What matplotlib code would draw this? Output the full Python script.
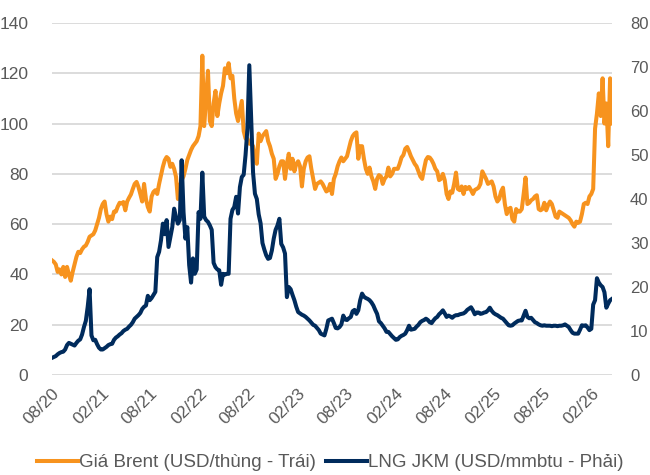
import numpy as np
import pandas as pd
import matplotlib
matplotlib.use("Agg")
import matplotlib.pyplot as plt
import matplotlib.dates as mdates

plt.rcParams['font.family'] = ['Liberation Sans', 'DejaVu Sans']

# weekly series, starting 01/08/2020
start_date = "2020-08-01"

# Brent, USD/thung (left axis)
brent = [
    45.6, 45, 44, 41, 42, 40, 43, 39, 43, 40, 37.5, 41, 44,
    47, 49, 48.5, 50, 51, 51.5, 53, 55, 55.5, 56, 57.5, 60, 62.5,
    66, 68, 69, 64, 61, 63, 62, 65, 65, 67, 68.5, 68.2, 68.8,
    65.5, 69, 70.5, 71.8, 74, 76, 76.8, 74.8, 72, 69, 76, 70, 66.8,
    65, 71, 72.8, 73.5, 72, 76, 79.4, 82.8, 85.4, 86.7, 86, 82.8, 84,
    82, 78.8, 70, 75, 77.5, 79, 82, 85.5, 87.5, 89.5,
    91, 92, 93, 95, 99, 127, 99, 110, 121, 101, 99, 108, 113,
    103, 108, 112, 115, 122, 120, 124, 118, 119, 110, 104, 101, 105,
    109, 97, 94, 94, 92, 92, 91, 86, 84, 96, 93, 95, 96,
    97, 93, 91, 88, 86, 78, 80, 83, 85, 85, 78, 84, 88,
    82, 86, 81, 84, 85, 83, 75, 82, 85, 86.5, 87, 82, 78,
    74, 76, 76.5, 77, 76, 74.5, 73, 73.5,
    76, 72, 78, 80, 83, 85, 86.5, 85, 86, 87, 90, 93, 95,
    96, 96.5, 86, 91, 91, 86, 82, 80, 82.5, 79, 77, 74, 78,
    79.5, 79, 76, 78, 79, 82.5, 79, 80, 82, 82, 82, 84, 86.5,
    87.5, 90, 90.7, 89, 87, 85.5, 84, 83, 81, 79, 78, 82, 85.5,
    86.7, 86.5, 85.5, 84, 82, 81, 77.5, 78, 80, 77.5, 72, 70, 73,
    72.5, 76, 80.5, 74, 73.5, 75, 72, 74.8, 74, 74.8, 73.5,
    72, 73.6, 74, 74.5, 76, 81, 79.5, 78, 76, 76.5, 77, 75, 71,
    69, 70, 73, 74.5, 68, 64, 66, 66.5, 62, 61, 66, 65, 65,
    66, 72, 78.5, 68, 68.5, 69.5, 70, 71, 71.5, 66, 65.5, 66, 68.5,
    65.5, 67.5, 69, 68, 65.5, 63, 62.5, 65, 64.5, 64, 63.5, 63, 62.5,
    61.5, 60, 59, 61, 60.5, 61, 64, 68, 68.5, 68, 71, 72, 74,
    98, 104, 112, 103, 118, 100, 108, 91, 118, 100,
]

# LNG JKM, USD/mmbtu (right axis)
jkm = [
    3.9, 4.1, 4.3, 4.7, 5.0, 5.2, 5.3, 5.8, 6.8, 7.3, 7.1, 6.9, 6.7,
    7.3, 7.8, 8.1, 9.2, 10.9, 12.3, 15.5, 19.5, 9, 7.9, 8, 7, 6.2,
    5.8, 5.8, 6.1, 6.4, 6.8, 7, 7.1, 8, 8.5, 8.8, 9.2, 9.5, 10,
    10.3, 10.5, 11, 11.4, 12, 12.8, 13.2, 13.6, 14.1, 15, 15.5, 15.8, 18,
    17, 17.5, 18.2, 18.9, 26.8, 28, 30.6, 34.4, 32, 35.2, 29.1, 31.4, 33.6,
    37.8, 35.9, 34.4, 35.2, 48.8, 37, 31, 33.6, 25, 21,
    26.5, 23, 24, 37, 35.5, 46, 36, 35.2, 34.8, 34, 33, 25.5, 24.5,
    24, 23.8, 20.5, 23, 22.8, 23, 23, 35.5, 37.5, 38.2, 40.5, 36.7, 42.7,
    45, 45.5, 50, 56, 70.4, 58, 46, 41.2, 40, 36.5, 34.5, 30, 28.5,
    27.2, 26.4, 26.6, 28.3, 31, 33, 34, 35.5, 29.8, 29, 27.6, 17.7, 20,
    19.5, 18.2, 17, 15.5, 14.3, 14, 13.7, 13.5, 13.2, 12.8, 12.4, 11.9, 11.4,
    11.2, 10.7, 10.2, 9.4, 9.2, 9, 10.5, 12.4, 12.6, 12.8,
    11.8, 10.7, 10.6, 10.9, 11.5, 13.5, 12.6, 12.5, 12.9, 13.2, 14.5, 14.8, 13.9,
    14.7, 17, 18.5, 17.8, 17.5, 17.3, 17, 16.5, 15.8, 14.8, 13.9, 12.2, 11.8,
    11.2, 10.6, 9.8, 9.8, 9.3, 8.8, 8.4, 8.0, 8.1, 8.6, 8.9, 9.1, 9.4,
    10.2, 11.2, 10.3, 10.4, 10.5, 11, 11.4, 12, 12.3, 12.5, 12.8, 12.5, 12,
    11.8, 12.4, 12.9, 13.2, 13.8, 14.2, 14.7, 14, 13.2, 13.5, 13.3, 13, 13.4,
    13.6, 13.6, 13.8, 13.9, 14, 14.3, 14.8, 15.1, 15.4,
    14.7, 13.8, 14.2, 14.2, 13.9, 14, 14.2, 14.3, 14.7, 15.3, 14.6, 14.1, 13.8,
    13.6, 13.3, 13, 12.8, 12.3, 11.8, 11.3, 11.2, 11.3, 11.7, 12, 12.3, 12.4,
    12.4, 13.5, 14.6, 13.2, 12.9, 13, 12.5, 12, 11.8, 11.5, 11.3, 11.2, 11.3,
    11.2, 11.2, 11.2, 11.1, 11.2, 11.2, 11.1, 11.2, 11.2, 11.3, 11.5, 11.2, 10.9,
    10.2, 9.6, 9.4, 9.4, 9.4, 10.3, 11.3, 11.2, 11.3, 10.8, 10.2, 10.5, 16,
    17, 22, 21, 20.4, 20, 18.8, 15.3, 16.2, 17, 17.3,
]

dates = pd.date_range(start_date, periods=len(brent), freq="7D")
tick_dates = pd.date_range("2020-08-01", "2026-02-01", freq="6MS")

orange = "#F7931E"
navy = "#002B5C"
txt = "#595959"

fig = plt.figure(figsize=(6.5, 4.75), dpi=100)
ax1 = fig.add_axes([0.08, 0.2105, 0.8615, 0.7411])
ax2 = ax1.twinx()

l1, = ax1.plot(dates, brent, color=orange, lw=2.9, solid_joinstyle="round",
               label="Giá Brent (USD/thùng - Trái)")
l2, = ax2.plot(dates, jkm[:len(dates)], color=navy, lw=2.9, solid_joinstyle="round",
               label="LNG JKM (USD/mmbtu - Phải)")

ax1.set_ylim(0, 140)
ax1.set_yticks(range(0, 141, 20))
ax2.set_ylim(0, 80)
ax2.set_yticks(range(0, 81, 10))
ax1.set_xlim(dates[0], dates[-1])

ax1.set_xticks(tick_dates)
ax1.xaxis.set_major_formatter(mdates.DateFormatter("%m/%y"))
for lab in ax1.get_xticklabels():
    lab.set_rotation(45)
    lab.set_ha("right")
    lab.set_va("top")
    lab.set_rotation_mode("anchor")

ax1.grid(axis="y", color="#D9D9D9", lw=1.3)
ax1.set_axisbelow(True)
for ax in (ax1, ax2):
    for s in ax.spines.values():
        s.set_visible(False)
    ax.tick_params(length=0, labelsize=12.5, labelcolor=txt)
ax1.tick_params(axis="y", pad=17)
ax2.tick_params(axis="y", pad=13, labelsize=12)
ax1.tick_params(axis="x", pad=8)

fig.legend(handles=[l1, l2], loc="center", bbox_to_anchor=(0.508, 0.026),
           ncol=2, frameon=False, fontsize=13.5, labelcolor=txt,
           handlelength=2.2, handletextpad=0.05, columnspacing=0.5)

fig.savefig("out.png", dpi=100)
